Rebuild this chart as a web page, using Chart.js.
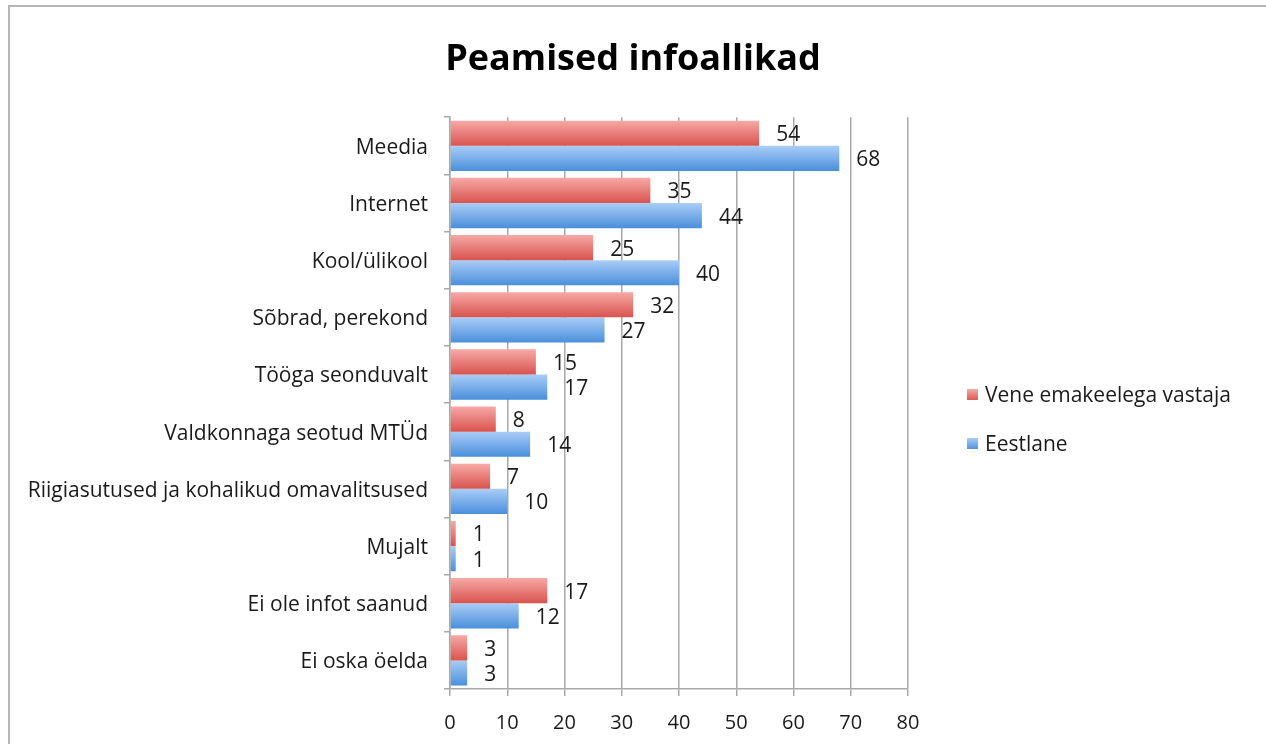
<!DOCTYPE html>
<html>
<head>
<meta charset="utf-8">
<title>Peamised infoallikad</title>
<script src="https://cdn.jsdelivr.net/npm/chart.js@4/dist/chart.umd.min.js"></script>
<style>
    body { margin: 0; background: #ffffff; }
    canvas { display: block; }
</style>
</head>
<body>
<canvas id="chart" width="1266" height="744"></canvas>
<script>
// Andmed
const categories = [
    'Meedia',
    'Internet',
    'Kool/ülikool',
    'Sõbrad, perekond',
    'Tööga seonduvalt',
    'Valdkonnaga seotud MTÜd',
    'Riigiasutused ja kohalikud omavalitsused',
    'Mujalt',
    'Ei ole infot saanud',
    'Ei oska öelda'
];
const seriesNames = ['Vene emakeelega vastaja', 'Eestlane'];
const veneValues = [54, 35, 25, 32, 15, 8, 7, 1, 17, 3];
const eestiValues = [68, 44, 40, 27, 17, 14, 10, 1, 12, 3];
const xTicks = [0, 10, 20, 30, 40, 50, 60, 70, 80];

const FONT = '"Open Sans", Lato, sans-serif';
const TEXT = '#1a1a1a';
const GRID = '#a8a8a8';
const CAT_PCT = 0.88;

const redStops = ['#f7a9a6', '#d9534e'];
const blueStops = ['#a9cdf7', '#4a8fdb'];

// Gradient per bar (top light, bottom dark)
function barGradient(ctx, pos, stops) {
    const chart = ctx.chart;
    const y = chart.scales.y;
    if (!y || ctx.dataIndex === undefined || !y.height) return stops[1];
    const center = y.getPixelForValue(ctx.dataIndex);
    const h = y.height / categories.length * CAT_PCT / 2;
    const top = pos === 0 ? center - h : center;
    const g = chart.ctx.createLinearGradient(0, top, 0, top + h);
    g.addColorStop(0, stops[0]);
    g.addColorStop(1, stops[1]);
    return g;
}

// Raam ümber graafiku + pealkiri üle kogu laiuse
const framePlugin = {
    id: 'frame',
    afterLayout(chart) {
        if (chart.titleBlock) {
            chart.titleBlock.left = 0;
            chart.titleBlock.right = chart.width;
            chart.titleBlock.width = chart.width;
        }
    },
    beforeDraw(chart) {
        const c = chart.ctx;
        c.save();
        c.strokeStyle = '#b4b4b4';
        c.lineWidth = 2;
        c.strokeRect(9, 6, chart.width + 20, chart.height + 20);
        c.restore();
    }
};

// Väärtused tulpade kõrval
const valueLabels = {
    id: 'valueLabels',
    afterDatasetsDraw(chart) {
        const c = chart.ctx;
        c.save();
        c.font = '21px ' + FONT;
        c.fillStyle = TEXT;
        c.textAlign = 'left';
        c.textBaseline = 'middle';
        chart.data.datasets.forEach((ds, i) => {
            chart.getDatasetMeta(i).data.forEach((el, j) => {
                c.fillText(String(ds.data[j]), el.x + 17, el.y + 2);
            });
        });
        c.restore();
    }
};

// Legend paremal
const sideLegend = {
    id: 'sideLegend',
    afterDraw(chart) {
        const c = chart.ctx;
        const colors = [redStops, blueStops];
        const rows = [396, 445];
        c.save();
        c.font = '21px ' + FONT;
        c.textBaseline = 'middle';
        seriesNames.forEach((name, i) => {
            const g = c.createLinearGradient(0, rows[i] - 7, 0, rows[i] + 5);
            g.addColorStop(0, colors[i][0]);
            g.addColorStop(1, colors[i][1]);
            c.fillStyle = g;
            c.fillRect(967, rows[i] - 7, 11, 11);
            c.fillStyle = TEXT;
            c.fillText(name, 985, rows[i]);
        });
        c.restore();
    }
};

new Chart(document.getElementById('chart'), {
    type: 'bar',
    data: {
        labels: categories,
        datasets: [
            {
                label: seriesNames[0],
                data: veneValues,
                backgroundColor: ctx => barGradient(ctx, 0, redStops),
                categoryPercentage: CAT_PCT,
                barPercentage: 1
            },
            {
                label: seriesNames[1],
                data: eestiValues,
                backgroundColor: ctx => barGradient(ctx, 1, blueStops),
                categoryPercentage: CAT_PCT,
                barPercentage: 1
            }
        ]
    },
    options: {
        indexAxis: 'y',
        responsive: false,
        animation: false,
        layout: {
            padding: { left: 10, right: 358, top: 0, bottom: 0 }
        },
        plugins: {
            legend: { display: false },
            tooltip: { enabled: false },
            title: {
                display: true,
                text: 'Peamised infoallikad',
                color: '#000000',
                font: { family: FONT, size: 36, weight: 'bold' },
                padding: { top: 38, bottom: 36 }
            }
        },
        scales: {
            x: {
                min: xTicks[0],
                max: xTicks[xTicks.length - 1],
                afterBuildTicks: s => { s.ticks = xTicks.map(v => ({ value: v })); },
                afterFit: s => { s.height = 55; },
                grid: { color: GRID, lineWidth: 1.5, tickLength: 7 },
                border: { color: GRID, width: 1.5 },
                ticks: {
                    color: TEXT,
                    padding: 15,
                    font: { family: FONT, size: 20 }
                }
            },
            y: {
                afterFit: s => { s.width = 440; },
                grid: {
                    drawOnChartArea: false,
                    color: GRID,
                    lineWidth: 1.5,
                    tickLength: 6
                },
                border: { color: GRID, width: 1.5 },
                ticks: {
                    color: TEXT,
                    padding: 16,
                    labelOffset: 2,
                    autoSkip: false,
                    font: { family: FONT, size: 21 }
                }
            }
        }
    },
    plugins: [framePlugin, valueLabels, sideLegend]
});
</script>
</body>
</html>
